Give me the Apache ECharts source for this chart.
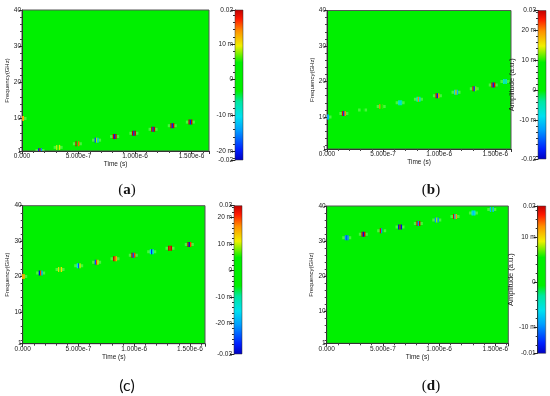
<!DOCTYPE html>
<html><head><meta charset="utf-8">
<script src="https://cdn.jsdelivr.net/npm/echarts@6/dist/echarts.min.js"></script>
<style>html,body{margin:0;padding:0;background:#fff}#c{width:550px;height:396px}</style>
</head><body><div id="c"></div>
<script>
// ---------------- DATA ----------------
// marker time (s), frequency (GHz), amplitude stripes (a.u.) per panel
const timesA = [0, 1.59e-7, 3.20e-7, 4.90e-7, 6.60e-7, 8.20e-7, 9.90e-7, 1.16e-6, 1.33e-6, 1.49e-6];
const freqsA = [10, 1.1, 2.0, 3.0, 4.0, 5.0, 5.9, 7.0, 8.0, 9.0];
const ampsA = [[0.012,0.013,0.012],[-0.02,0.019,-0.015],[0.009,0.004,0.009],[0.019,0.004,0.015],[-0.018,0.008,-0.012],
               [0.019,-0.02,0.019],[0.019,-0.02,0.019],[0.019,-0.02,0.019],[0.019,-0.02,0.019],[0.019,-0.02,0.019]];

const timesB = [0, 1.50e-7, 3.17e-7, 4.83e-7, 6.52e-7, 8.15e-7, 9.84e-7, 1.15e-6, 1.313e-6, 1.482e-6, 1.586e-6];
const freqsB = [10, 11, 12, 13, 14, 15, 16, 17, 18, 19, 20];
const ampsB = [[-0.012,-0.012,-0.012],[0.025,-0.02,0.02],[0.008,0.006,0.008],[0.02,0.005,0.01],[-0.008,-0.01,-0.005],
               [-0.008,0.02,-0.01],[0.025,-0.02,0.02],[-0.01,0.018,-0.012],[0.025,-0.018,0.012],[0.025,-0.02,0.025],[-0.006,-0.006,-0.006]];

const timesC = [0, 1.61e-7, 3.35e-7, 5.02e-7, 6.63e-7, 8.28e-7, 9.92e-7, 1.157e-6, 1.321e-6, 1.494e-6];
const freqsC = [20, 21, 22, 23, 24, 25, 26, 27, 28, 29];
const ampsC = [[0.015,0.015,0.015],[-0.03,0.02,-0.02],[0.012,0.004,0.012],[-0.015,-0.025,0.01],[-0.025,0.02,0.01],
               [0.024,0.02,0.015],[0.024,-0.025,0.02],[-0.015,-0.028,-0.015],[0.024,0.022,0.024],[0.024,-0.03,0.02]];

const timesD = [1.78e-7, 3.26e-7, 4.89e-7, 6.52e-7, 8.15e-7, 9.79e-7, 1.141e-6, 1.305e-6, 1.468e-6];
const freqsD = [31, 32, 33, 34, 35, 36, 37, 38, 39];
const ampsD = [[-0.01,-0.012,-0.01],[0.016,-0.015,0.016],[0.016,-0.01,0.0],[-0.015,0.016,-0.015],[0.016,-0.01,0.016],
               [-0.01,0.008,-0.01],[0.016,-0.008,0.012],[-0.006,-0.008,-0.006],[-0.008,0.006,-0.008]];

// colour-bar ranges and tick labels
const cbRangeA = [-0.0225, 0.0195];
const cbTicksA = [-0.0225, -0.02, -0.01, 0, 0.01, 0.0195];
const cbLabelsA = ['-0.02', '-20 m', '-10 m', '0', '10 m', '0.02'];
const cbRangeB = [-0.023, 0.0265];
const cbTicksB = [-0.023, -0.01, 0, 0.01, 0.02, 0.0265];
const cbLabelsB = ['-0.02', '-10 m', '0', '10 m', '20 m', '0.03'];
const cbRangeC = [-0.0316, 0.0245];
const cbTicksC = [-0.0316, -0.02, -0.01, 0, 0.01, 0.02, 0.0245];
const cbLabelsC = ['-0.03', '-20 m', '-10 m', '0', '10 m', '20 m', '0.03'];
const cbRangeD = [-0.0159, 0.0169];
const cbTicksD = [-0.0159, -0.01, 0, 0.01, 0.0169];
const cbLabelsD = ['-0.01', '-10 m', '0', '10 m', '0.02'];

const timeMax = [1.655e-6, 1.64e-6, 1.635e-6, 1.615e-6];
const freqRange = [1, 40];
const captions = ['a', 'b', 'c', 'd'];

// ---------------- STYLE / LAYOUT ----------------
const BG = '#00f000';
const STOPS = [
  [0.00, '#0000c0'], [0.07, '#0020ff'], [0.20, '#00a0ff'], [0.29, '#00e0f0'],
  [0.39, '#00e8a0'], [0.46, '#00f000'], [0.65, '#00f000'], [0.76, '#f0f000'],
  [0.86, '#ff9000'], [0.94, '#ff1800'], [1.00, '#c00000']
];
function hex(h){return [parseInt(h.substr(1,2),16),parseInt(h.substr(3,2),16),parseInt(h.substr(5,2),16)];}
function cmap(a, r){
  let n = (a - r[0]) / (r[1] - r[0]); n = Math.max(0, Math.min(1, n));
  for (let i = 1; i < STOPS.length; i++) {
    if (n <= STOPS[i][0]) {
      const p = STOPS[i-1], q = STOPS[i];
      const t = (n - p[0]) / ((q[0] - p[0]) || 1);
      const c1 = hex(p[1]), c2 = hex(q[1]);
      return 'rgb(' + c1.map((v,k)=>Math.round(v + (c2[k]-v)*t)).join(',') + ')';
    }
  }
  return STOPS[STOPS.length-1][1];
}

const layout = [
  {plot:{left:22, top:10, width:187, height:141}, cb:{left:235, top:10, width:8, height:150}, amp:false, cap:[127,190,'serif']},
  {plot:{left:327, top:10.5, width:184, height:138.5}, cb:{left:538, top:10.5, width:8, height:148.5}, amp:true, cap:[431,190,'serif']},
  {plot:{left:22.7, top:205.7, width:182.3, height:138}, cb:{left:234, top:205.7, width:8, height:148.3}, amp:false, cap:[127,386,'sans']},
  {plot:{left:326.7, top:206, width:181.6, height:137.3}, cb:{left:537.7, top:206, width:8, height:147.3}, amp:true, cap:[431,386,'serif']}
];

const panels = [
  {t:timesA, f:freqsA, a:ampsA, cb:cbRangeA, ticks:cbTicksA, labels:cbLabelsA},
  {t:timesB, f:freqsB, a:ampsB, cb:cbRangeB, ticks:cbTicksB, labels:cbLabelsB},
  {t:timesC, f:freqsC, a:ampsC, cb:cbRangeC, ticks:cbTicksC, labels:cbLabelsC},
  {t:timesD, f:freqsD, a:ampsD, cb:cbRangeD, ticks:cbTicksD, labels:cbLabelsD}
];

const FONT = 'Liberation Sans';
const TXT = '#1a1a1a';
const grids = [], xAxes = [], yAxes = [], series = [], graphics = [];

panels.forEach((p, i) => {
  const L = layout[i];
  const gPlot = grids.length;
  grids.push(Object.assign({show:true, backgroundColor:BG, borderColor:'#555', borderWidth:1, containLabel:false}, L.plot));
  const gCb = grids.length;
  grids.push(Object.assign({show:false, containLabel:false}, L.cb));

  // plot axes
  const xPlot = xAxes.length;
  xAxes.push({
    gridIndex:gPlot, type:'value', min:0, max:timeMax[i], interval:5e-7,
    name:'Time (s)', nameLocation:'middle', nameGap:10,
    nameTextStyle:{fontSize:6.5, fontFamily:FONT, color:TXT},
    axisLine:{show:true, onZero:false, lineStyle:{color:'#333', width:1}},
    axisTick:{show:true, length:3, lineStyle:{color:'#333'}},
    minorTick:{show:true, splitNumber:5, length:2, lineStyle:{color:'#444'}},
    splitLine:{show:false},
    axisLabel:{fontSize:6.5, fontFamily:FONT, color:TXT, margin:2, showMinLabel:true, showMaxLabel:false,
      formatter:v => (Math.abs(v) < 1e-12 ? '0.000' : v.toExponential(3))}
  });
  const yPlot = yAxes.length;
  yAxes.push({
    gridIndex:gPlot, type:'value', min:freqRange[0], max:freqRange[1], position:'left',
    name:'Frequency(GHz)', nameLocation:'middle', nameGap:11,
    nameTextStyle:{fontSize:6, fontFamily:FONT, color:TXT},
    axisLine:{show:true, onZero:false, lineStyle:{color:'#333', width:1}},
    axisTick:{show:true, length:3, lineStyle:{color:'#333'}},
    minorTick:{show:true, splitNumber:5, length:2, lineStyle:{color:'#444'}},
    splitLine:{show:false},
    axisLabel:{fontSize:6.5, fontFamily:FONT, color:TXT, margin:1, showMinLabel:true, showMaxLabel:true}
  });

  // colour-bar axes
  const xCb = xAxes.length;
  xAxes.push({gridIndex:gCb, type:'value', min:0, max:1, show:false});
  const yCb = yAxes.length;
  const minor = [];
  for (let v = Math.ceil(p.cb[0]/0.002)*0.002; v <= p.cb[1] + 1e-9; v += 0.002) {
    const r = Math.round(v*1000)/1000;
    if (Math.abs(r/0.01 - Math.round(r/0.01)) > 1e-6) minor.push(r);
  }
  yAxes.push({
    gridIndex:gCb, type:'value', min:p.cb[0], max:p.cb[1], position:'left',
    name: L.amp ? 'Amplitude (a.u.)' : '', nameLocation:'middle', nameGap:20,
    nameTextStyle:{fontSize:7.5, fontFamily:FONT, color:TXT},
    axisLine:{show:true, lineStyle:{color:'#222', width:1}},
    axisTick:{show:true, length:4, customValues:p.ticks, lineStyle:{color:'#222'}},
    splitLine:{show:false},
    axisLabel:{fontSize:6.5, fontFamily:FONT, color:TXT, margin:2, customValues:p.ticks,
      showMinLabel:true, showMaxLabel:true,
      formatter:v => { for (let k=0;k<p.ticks.length;k++) if (Math.abs(p.ticks[k]-v) < 1e-7) return p.labels[k]; return ''; }}
  });
  yAxes.push({
    gridIndex:gCb, type:'value', min:p.cb[0], max:p.cb[1], position:'left', offset:0,
    axisLine:{show:false}, axisLabel:{show:false}, splitLine:{show:false},
    axisTick:{show:true, length:2, customValues:minor, lineStyle:{color:'#333'}}
  });

  // colour bar
  series.push({
    type:'custom', xAxisIndex:xCb, yAxisIndex:yCb, silent:true, animation:false,
    data:[[0, p.cb[0], 1, p.cb[1]]],
    encode:{x:[0,2], y:[1,3]},
    renderItem:(params, api) => {
      const p0 = api.coord([api.value(0), api.value(1)]);
      const p1 = api.coord([api.value(2), api.value(3)]);
      return {type:'rect', shape:{x:p0[0], y:p1[1], width:p1[0]-p0[0], height:p0[1]-p1[1]},
        style:{fill:new echarts.graphic.LinearGradient(0,1,0,0, STOPS.map(s=>({offset:s[0], color:s[1]}))),
               stroke:'#333', lineWidth:0.5}};
    }
  });

  // markers
  const data = p.t.map((t, k) => [t, p.f[k], p.a[k][0], p.a[k][1], p.a[k][2]]);
  series.push({
    type:'custom', xAxisIndex:xPlot, yAxisIndex:yPlot, silent:true, animation:false, clip:true,
    data: data, encode:{x:0, y:1},
    renderItem:(params, api) => {
      const c = api.coord([api.value(0), api.value(1)]);
      const w = 1.3, h = 5;
      const children = [{type:'rect', shape:{x:c[0]-4.5, y:c[1]-1.5, width:9, height:3},
        style:{fill:'rgba(200,255,170,0.35)'}}];
      for (let s = 0; s < 3; s++) {
        children.push({type:'rect', shape:{x:c[0]-1.95+s*w, y:c[1]-h/2, width:w+0.1, height:h},
          style:{fill:cmap(api.value(2+s), p.cb)}});
      }
      return {type:'group', children};
    }
  });

  // caption
  const cap = L.cap;
  const serif = cap[2] === 'serif';
  graphics.push({
    type:'text', x:cap[0], y:cap[1], silent:true,
    style:{
      text: serif ? '({b|' + captions[i] + '})' : '(' + captions[i] + ')',
      align:'center', verticalAlign:'middle',
      fontSize: serif ? 15 : 16, fontFamily: serif ? 'Liberation Serif' : 'Lato', fill:'#111',
      rich:{b:{fontWeight:'bold', fontSize:15, fontFamily:'Liberation Serif', fill:'#111'}}
    }
  });
});

const chart = echarts.init(document.getElementById('c'), null, {renderer:'canvas'});
chart.setOption({
  animation:false,
  grid:grids, xAxis:xAxes, yAxis:yAxes, series:series, graphic:graphics
});
</script>
</body></html>
